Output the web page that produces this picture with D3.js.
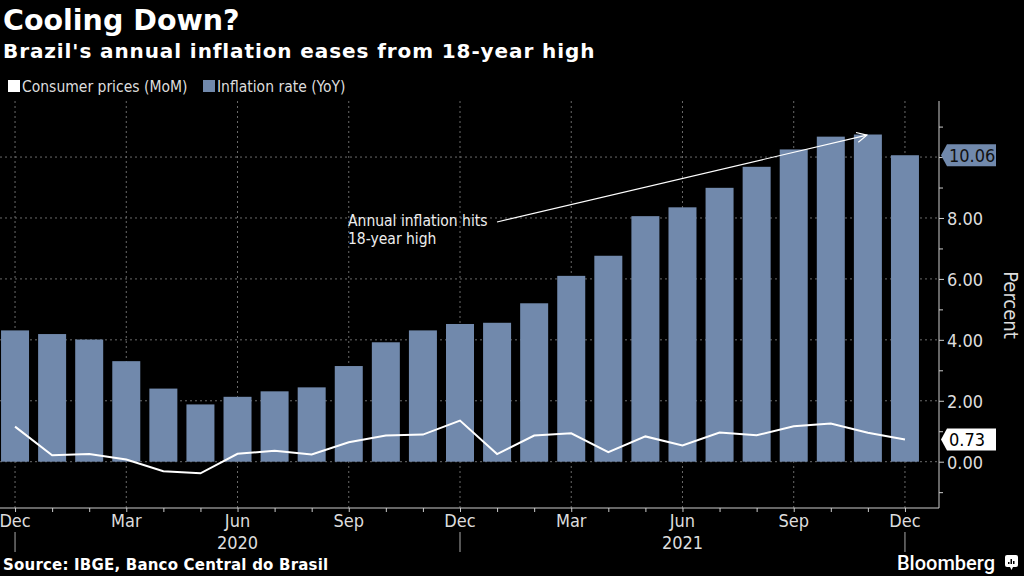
<!DOCTYPE html>
<html><head><meta charset="utf-8">
<script src="https://cdn.jsdelivr.net/npm/d3@7"></script>
<style>
html,body{margin:0;padding:0;background:#000;}
svg{display:block;}
.cond{font-family:"DejaVu Sans Condensed","Liberation Sans Narrow","Roboto Condensed","DejaVu Sans",sans-serif;font-stretch:condensed;}
.bold{font-family:"DejaVu Sans","Open Sans",sans-serif;font-weight:bold;}
</style></head>
<body>
<script>
const months = ["2019-12","2020-01","2020-02","2020-03","2020-04","2020-05","2020-06","2020-07","2020-08","2020-09","2020-10","2020-11","2020-12","2021-01","2021-02","2021-03","2021-04","2021-05","2021-06","2021-07","2021-08","2021-09","2021-10","2021-11","2021-12"];
const yoy = [4.31,4.19,4.01,3.30,2.40,1.88,2.13,2.31,2.44,3.14,3.92,4.31,4.52,4.56,5.20,6.10,6.76,8.06,8.35,8.99,9.68,10.25,10.67,10.74,10.06];
const mom = [1.15,0.21,0.25,0.07,-0.31,-0.38,0.26,0.36,0.24,0.64,0.86,0.89,1.35,0.25,0.86,0.93,0.31,0.83,0.53,0.96,0.87,1.16,1.25,0.95,0.73];
const quarterLabels = ["Dec","Mar","Jun","Sep","Dec","Mar","Jun","Sep","Dec"];
const quarterMonths = ["2019-12","2020-03","2020-06","2020-09","2020-12","2021-03","2021-06","2021-09","2021-12"];
const yearLabels = ["2020","2021"];
const yearCenters = ["2020-06","2021-06"];
const yearSeps = ["2019-12","2020-12","2021-12"];
const yTicks = [0,2,4,6,8,10];
const yMinor = [-1,1,3,5,7,9,11];

const W=1024,H=576;
const svg=d3.select("body").append("svg").attr("width",W).attr("height",H).style("background","#000");

const axisX=939, plotTop=101, plotBottom=508;
const x=d3.scaleBand().domain(months).range([-3.5,923.5]).paddingInner(0.245).paddingOuter(0.1225);
const y=d3.scaleLinear().domain([-1.52,11.84]).range([plotBottom,plotTop]);
const cx=m=>x(m)+x.bandwidth()/2;
const barColor="#7189ac";
const gridColor="#6a6a6a";

// title
svg.append("text").attr("class","bold").attr("x",3).attr("y",30).attr("fill","#fff").attr("font-size",28.5).text("Cooling Down?");
svg.append("text").attr("class","bold").attr("x",3).attr("y",58).attr("fill","#fff").attr("font-size",20).attr("letter-spacing",0.9).text("Brazil's annual inflation eases from 18-year high");

// legend
const lg=svg.append("g").attr("class","cond").attr("font-size",15.5).attr("fill","#ddd");
lg.append("rect").attr("x",8).attr("y",80).attr("width",12).attr("height",12).attr("fill","#fff");
lg.append("text").attr("x",22).attr("y",92).text("Consumer prices (MoM)");
lg.append("rect").attr("x",203).attr("y",80).attr("width",12).attr("height",12).attr("fill",barColor);
lg.append("text").attr("x",217).attr("y",92).text("Inflation rate (YoY)");

// gridlines
svg.append("g").selectAll("line").data(yTicks).join("line")
  .attr("x1",0).attr("x2",axisX).attr("y1",d=>y(d)).attr("y2",d=>y(d))
  .attr("stroke",gridColor).attr("stroke-width",1).attr("stroke-dasharray","2,3");
svg.append("g").selectAll("line").data(quarterMonths).join("line")
  .attr("x1",d=>cx(d)).attr("x2",d=>cx(d)).attr("y1",plotTop).attr("y2",plotBottom)
  .attr("stroke",gridColor).attr("stroke-width",1).attr("stroke-dasharray","2,3");

// bars
svg.append("g").selectAll("rect").data(months).join("rect")
  .attr("x",d=>x(d)).attr("width",x.bandwidth())
  .attr("y",(d,i)=>y(yoy[i])).attr("height",(d,i)=>y(0)-y(yoy[i]))
  .attr("fill",barColor);

// line
svg.append("path").datum(months).attr("fill","none").attr("stroke","#fff").attr("stroke-width",2)
  .attr("d",d3.line().x(d=>cx(d)).y((d,i)=>y(mom[i])));

// axes
const yAxis=d3.axisRight(y).tickValues(yTicks).tickFormat(d3.format(".2f")).tickSize(5).tickPadding(3);
const gy=svg.append("g").attr("transform",`translate(${axisX},0)`).call(yAxis);
gy.select(".domain").attr("stroke","#ccc").attr("d",`M0,${plotTop}V${plotBottom}`);
gy.selectAll(".tick line").attr("stroke","#ccc");
gy.selectAll(".tick text").attr("class","cond").attr("fill","#ddd").attr("font-size",18).attr("font-family",null).attr("dy","0.35em");
gy.selectAll(".tick").filter(d=>d===10).select("text").remove();
const gyMinor=svg.append("g").attr("transform",`translate(${axisX},0)`).call(d3.axisRight(y).tickValues(yMinor).tickSize(4).tickFormat(""));
gyMinor.select(".domain").remove();
gyMinor.selectAll(".tick line").attr("stroke","#ccc");

const xAxis=d3.axisBottom(d3.scalePoint().domain(months).range([cx(months[0]),cx(months[months.length-1])])).tickSize(4).tickFormat("");
const gx=svg.append("g").attr("transform",`translate(0,${plotBottom})`).call(xAxis);
gx.select(".domain").attr("stroke","#ccc").attr("d",`M0,0H${axisX}`);
gx.selectAll(".tick line").attr("stroke","#ccc");
// quarter labels
svg.append("g").attr("class","cond").attr("font-size",18).attr("fill","#ddd").attr("text-anchor","middle")
  .selectAll("text").data(quarterMonths).join("text")
  .attr("x",d=>cx(d)).attr("y",527).text((d,i)=>quarterLabels[i]);
svg.append("g").attr("class","cond").attr("font-size",18).attr("fill","#ddd").attr("text-anchor","middle")
  .selectAll("text").data(yearCenters).join("text")
  .attr("x",d=>cx(d)).attr("y",549).text((d,i)=>yearLabels[i]);
svg.append("g").selectAll("line").data(yearSeps).join("line")
  .attr("x1",d=>cx(d)).attr("x2",d=>cx(d)).attr("y1",532).attr("y2",552)
  .attr("stroke","#aaa").attr("stroke-width",1);

// y title
svg.append("text").attr("class","cond").attr("font-size",20).attr("fill","#ddd").attr("text-anchor","middle")
  .attr("transform",`translate(1004,305) rotate(90)`).text("Percent");

// value labels
function valueLabel(v,fill,textFill,w){
  const yy=y(v);
  const g=svg.append("g");
  g.append("path").attr("d",`M${axisX+2},${yy}L${axisX+8},${yy-11}H${axisX+8+w}V${yy+11}H${axisX+8}Z`).attr("fill",fill);
  g.append("text").attr("class","cond").attr("x",axisX+10).attr("y",yy).attr("dy","0.36em").attr("font-size",18).attr("fill",textFill).text(d3.format(".2f")(v));
}
valueLabel(yoy[yoy.length-1],barColor,"#111",49);
valueLabel(mom[mom.length-1],"#fff","#000",49);

// annotation
const defs=svg.append("defs");
defs.append("marker").attr("id","arr").attr("viewBox","0 0 12 12").attr("refX",11).attr("refY",6)
  .attr("markerWidth",12).attr("markerHeight",12).attr("markerUnits","userSpaceOnUse").attr("orient","auto")
  .append("path").attr("d","M1,1L11,6L1,11").attr("fill","none").attr("stroke","#fff").attr("stroke-width",1.2);
const annEnd=months[23];
svg.append("line").attr("x1",497).attr("y1",222).attr("x2",cx(annEnd)-1).attr("y2",y(yoy[23]-0.02))
  .attr("stroke","#fff").attr("stroke-width",1.2).attr("marker-end","url(#arr)");
const at=svg.append("text").attr("class","cond").attr("font-size",15.5).attr("fill","#eee");
at.append("tspan").attr("x",348).attr("y",226).text("Annual inflation hits");
at.append("tspan").attr("x",348).attr("y",244).text("18-year high");

// footer
svg.append("text").attr("class","bold").attr("x",3).attr("y",570).attr("font-size",15).attr("letter-spacing",0.2).attr("fill","#fff").text("Source: IBGE, Banco Central do Brasil");
svg.append("text").attr("x",995).attr("y",570).attr("text-anchor","end").attr("font-family","Roboto,'Open Sans',sans-serif").attr("font-weight",500).attr("font-size",20).attr("fill","#fff").text("Bloomberg");
const ic=svg.append("g").attr("transform","translate(1005,555)");
ic.append("rect").attr("width",13).attr("height",12).attr("rx",2).attr("fill","#fff");
ic.append("path").attr("d","M5,12L6.5,15L8,12Z").attr("fill","#fff");
[[3,7,2],[5.5,4,2],[8,6,2]].forEach(b=>ic.append("rect").attr("x",b[0]).attr("y",b[1]).attr("width",1.5).attr("height",9-b[1]).attr("fill","#000"));
</script>
</body></html>
